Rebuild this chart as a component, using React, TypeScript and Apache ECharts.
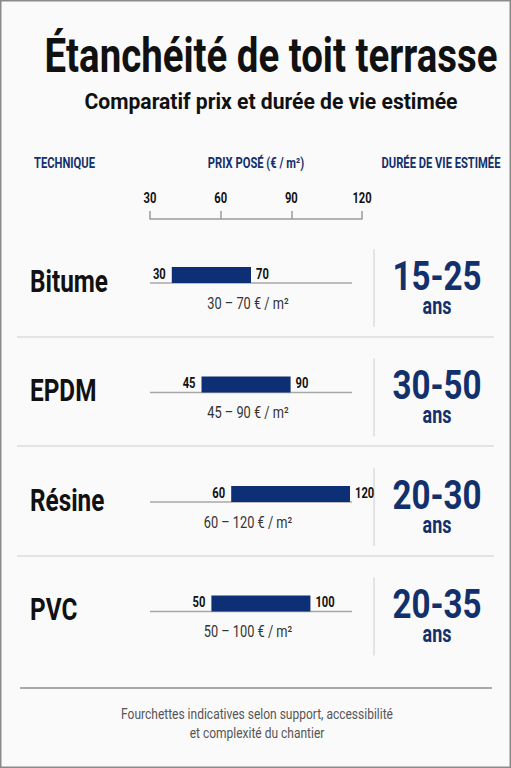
import React, { useEffect, useRef } from "react";
import * as echarts from "echarts";

// ---- data ----
const techniques = ["Bitume", "EPDM", "Résine", "PVC"];
const priceLow = [30, 45, 60, 50];
const priceHigh = [70, 90, 120, 100];
const lifeRange = ["15-25", "30-50", "20-30", "20-35"];
const lifeUnit = "ans";
const axisTicks = [30, 60, 90, 120];
const title = "Étanchéité de toit terrasse";
const subtitle = "Comparatif prix et durée de vie estimée";
const headers = ["TECHNIQUE", "PRIX POSÉ (€ / m²)", "DURÉE DE VIE ESTIMÉE"];
const footer = ["Fourchettes indicatives selon support, accessibilité", "et complexité du chantier"];

const BAR_MIN = 19;
const BAR_MAX = 121;

const F = "Roboto, 'Noto Sans', sans-serif";
const NAVY = "#0c2f75";
const NAVY_TXT = "#12306c";
const SX = 0.8;

function txt(x: number, y: number, text: string, size: number, weight: string, color: string, align: string, sx = SX) {
  return {
    type: "text",
    x,
    y,
    scaleX: sx,
    style: { text, font: `${weight} ${size}px ${F}`, fill: color, textAlign: align, textVerticalAlign: "middle" },
  };
}

export default function App() {
  const ref = useRef<HTMLDivElement>(null);
  useEffect(() => {
    if (!ref.current) return;
    const chart = echarts.init(ref.current, null, { renderer: "svg" });
    const rowCenters = [275, 384.5, 494, 603.5];
    const graphics: any[] = [
      { type: "rect", shape: { x: 0, y: 0, width: 511, height: 768 }, style: { fill: "none", stroke: "#8a8a8a", lineWidth: 3 }, z: 100 },
      txt(271, 56, title, 48, "bold", "#111", "center", 0.8),
      txt(271, 101, subtitle, 22, "bold", "#111", "center", 0.96),
      txt(34, 163, headers[0], 14, "bold", NAVY_TXT, "left"),
      txt(256, 163, headers[1], 14, "bold", NAVY_TXT, "center"),
      txt(441, 163, headers[2], 14, "bold", NAVY_TXT, "center"),
      { type: "line", shape: { x1: 20, y1: 688, x2: 492, y2: 688 }, style: { stroke: "#8c8c8c", lineWidth: 1.5 } },
      txt(257, 713, footer[0], 15, "normal", "#555", "center"),
      txt(257, 732, footer[1], 15, "normal", "#555", "center"),
    ];
    [337, 446, 556].forEach((y) => {
      graphics.push({ type: "line", shape: { x1: 17, y1: y, x2: 494, y2: y }, style: { stroke: "#dcdcdc", lineWidth: 1.5 } });
    });
    rowCenters.forEach((c) => {
      graphics.push({ type: "line", shape: { x1: 374, y1: c - 26, x2: 374, y2: c + 52 }, style: { stroke: "#dcdcdc", lineWidth: 1.5 } });
    });

    const data = techniques.map((_, i) => [priceLow[i], priceHigh[i], i]);

    chart.setOption({
      animation: false,
      backgroundColor: "#fafafa",
      graphic: graphics,
      grid: [
        { left: 150, width: 212, top: 218, height: 1 },
        { left: 150, width: 202, top: 220.25, height: 438 },
      ],
      xAxis: [
        {
          gridIndex: 0, type: "value", position: "top", min: axisTicks[0], max: axisTicks[axisTicks.length - 1], interval: 30,
          axisLine: { show: true, lineStyle: { color: "#9a9a9a", width: 1.5 } },
          axisTick: { show: true, length: 8, inside: false, lineStyle: { color: "#9a9a9a", width: 1.5 } },
          axisLabel: { show: false },
          splitLine: { show: false },
        },
        { gridIndex: 1, type: "value", min: BAR_MIN, max: BAR_MAX, show: false },
      ],
      yAxis: [
        { gridIndex: 0, type: "value", show: false },
        { gridIndex: 1, type: "category", data: techniques, inverse: true, show: false },
      ],
      series: [
        {
          type: "custom",
          xAxisIndex: 0,
          yAxisIndex: 0,
          data: axisTicks.map((v) => [v, 0]),
          clip: false,
          renderItem: (_p: any, api: any) => {
            const v = api.value(0);
            const p = api.coord([v, 0]);
            return txt(p[0], 198, String(v), 14, "bold", "#111", "center");
          },
        },
        {
          type: "custom",
          xAxisIndex: 1,
          yAxisIndex: 1,
          data,
          clip: false,
          encode: { x: [0, 1], y: 2 },
          renderItem: (params: any, api: any) => {
            const i = params.dataIndex;
            const lo = api.value(0);
            const hi = api.value(1);
            const cat = api.value(2);
            const p0 = api.coord([lo, cat]);
            const p1 = api.coord([hi, cat]);
            const a0 = api.coord([BAR_MIN, cat]);
            const a1 = api.coord([BAR_MAX, cat]);
            const h = 16;
            const cy = p0[1];
            return {
              type: "group",
              children: [
                { type: "line", shape: { x1: a0[0], y1: cy + h / 2, x2: a1[0], y2: cy + h / 2 }, style: { stroke: "#a8a8a8", lineWidth: 1.5 } },
                { type: "rect", shape: { x: p0[0], y: cy - h / 2, width: p1[0] - p0[0], height: h }, style: { fill: NAVY } },
                txt(p0[0] - 6, cy - 1, String(lo), 14, "bold", "#111", "right"),
                txt(p1[0] + 5, cy - 1, String(hi), 14, "bold", "#111", "left"),
                txt((a0[0] + a1[0]) / 2 - 3, cy + 29, `${lo} – ${hi} € / m²`, 16, "normal", "#333", "center"),
                txt(30, cy + 6, techniques[i], 32, "bold", "#111", "left", 0.76),
                txt(437, cy + 1, lifeRange[i], 40, "bold", NAVY_TXT, "center", 0.83),
                txt(437, cy + 31, lifeUnit, 23, "bold", NAVY_TXT, "center", 0.78),
              ],
            };
          },
        },
      ],
    });
    return () => chart.dispose();
  }, []);
  return <div ref={ref} style={{ position: "absolute", left: 0, top: 0, width: 511, height: 768 }} />;
}
